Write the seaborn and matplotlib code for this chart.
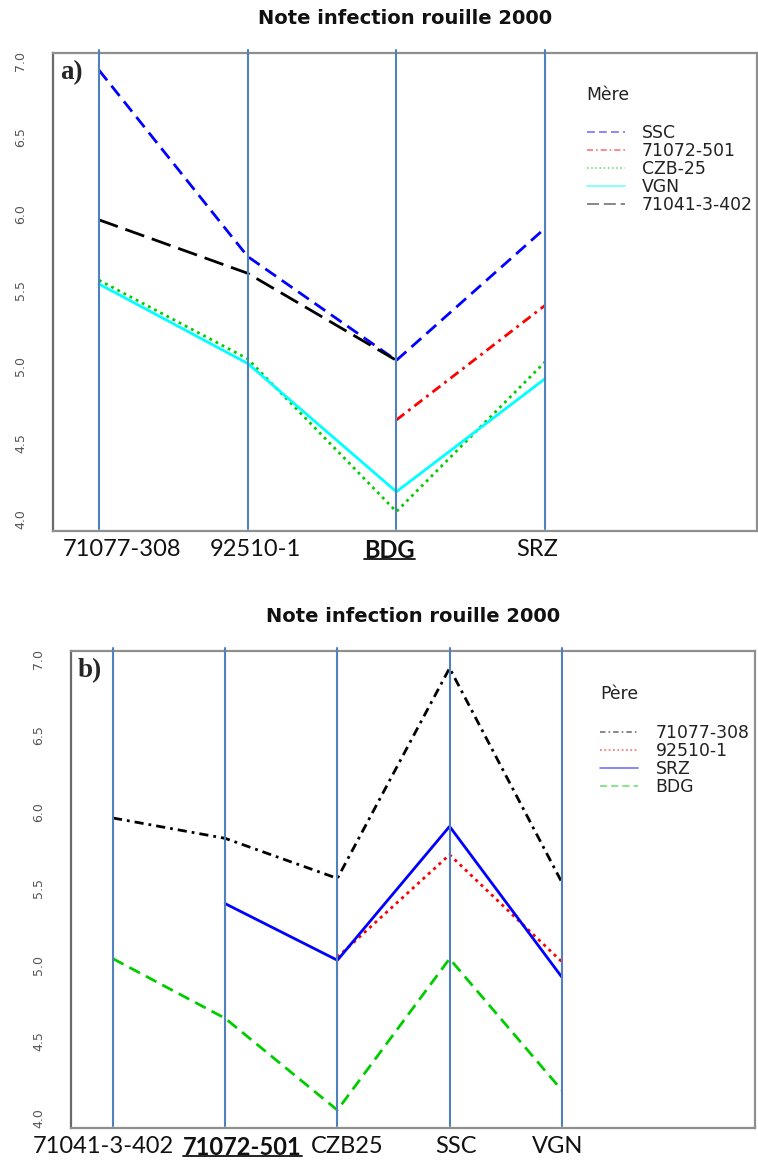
import numpy as np
import pandas as pd
import matplotlib
matplotlib.use("Agg")
import matplotlib.pyplot as plt
from matplotlib.lines import Line2D
import seaborn as sns

# ---- data: rust infection score (2000), crosses mother x father ----
peres = ["71077-308", "92510-1", "BDG", "SRZ"]
meres = ["SSC", "71072-501", "CZB-25", "VGN", "71041-3-402"]

# one list per mother, values in the order of `peres` (NaN = cross not made)
note_ssc = [6.94, 5.72, 5.04, 5.905]
note_71072_501 = [5.827, np.nan, 4.65, 5.40]
note_czb25 = [5.565, 5.05, 4.05, 5.03]
note_vgn = [5.54, 5.02, 4.18, 4.92]
note_71041_3_402 = [5.96, 5.61, 5.04, np.nan]

# panel b: mothers along x, fathers as traces
meres_b = ["71041-3-402", "71072-501", "CZB-25", "SSC", "VGN"]
mere_labels_b = ["71041-3-402", "71072-501", "CZB25", "SSC", "VGN"]
peres_legend_b = ["71077-308", "92510-1", "SRZ", "BDG"]

pere_labels_a = ["71077-308", "92510-1", "BDG", "SRZ"]
bold_a = ["BDG"]
bold_b = ["71072-501"]

yticks = [4.0, 4.5, 5.0, 5.5, 6.0, 6.5, 7.0]
ytick_labels = ["4.0", "4.5", "5.0", "5.5", "6.0", "6.5", "7.0"]

title = "Note infection rouille 2000"

# ---- layout: horizontal nudge (pixels) of each category caption ----
label_shift_a = [23, 8, -7, -8]
label_shift_b = [-10, 17, 10, 6, -4]

# ---- styles ----
pal_a = {"SSC": "#0000FF", "71072-501": "#FF0000", "CZB-25": "#00CD00",
         "VGN": "#00FFFF", "71041-3-402": "#000000"}
dash_a = {"SSC": (4.7, 2.5), "71072-501": (3.6, 1.8, 1.0, 1.8),
          "CZB-25": (1.0, 1.5), "VGN": "", "71041-3-402": (7.2, 2.9)}
pal_b = {"71077-308": "#000000", "92510-1": "#FF0000", "SRZ": "#0000FF",
         "BDG": "#00CD00"}
dash_b = {"71077-308": (3.3, 1.8, 1.0, 1.8), "92510-1": (1.1, 1.5),
          "SRZ": "", "BDG": (4.3, 2.4)}
guide_color = "#4F81BD"

sns.set_style("white")
plt.rcParams["font.family"] = ["DejaVu Sans"]
plt.rcParams["lines.scale_dashes"] = True

# ---- long table ----
scores = {"SSC": note_ssc, "71072-501": note_71072_501, "CZB-25": note_czb25,
          "VGN": note_vgn, "71041-3-402": note_71041_3_402}
rows = []
for m in meres:
    for p, v in zip(peres, scores[m]):
        rows.append({"mere": m, "pere": p, "note": v})
df = pd.DataFrame(rows)
df["xa"] = df["pere"].map({p: i for i, p in enumerate(peres)})
df["xb"] = df["mere"].map({m: i for i, m in enumerate(meres_b)})


def split_runs(d, trace, xcol):
    """Give each unbroken run of a trace its own unit, so gaps stay gaps."""
    d = d.sort_values([trace, xcol]).copy()
    run = d.groupby(trace)["note"].transform(lambda s: s.isna().cumsum())
    d["seg"] = d[trace] + "|" + run.astype(str)
    return d.dropna(subset=["note"])


da = split_runs(df, "mere", "xa")
db = split_runs(df, "pere", "xb")

W, H = 758, 1160
fig = plt.figure(figsize=(W / 100, H / 100), dpi=100)
ax_a = fig.add_axes([53 / W, 1 - 531 / H, 704 / W, 478 / H])
ax_b = fig.add_axes([71 / W, 1 - 1128.3 / H, 684 / W, 477.3 / H])


def style_axes(ax, n, xlim, ylim, labels, shifts, bold, tag):
    ax.set_xlim(*xlim)
    ax.set_ylim(*ylim)
    ax.set_xticks(range(n), labels=[""] * n)
    ax.set_yticks(yticks, labels=ytick_labels)
    ax.set_xlabel("")
    ax.set_ylabel("")
    ax.tick_params(axis="x", length=0)
    ax.tick_params(axis="y", length=8, pad=10.5, width=1.0, color="#707070",
                   labelsize=9, labelcolor="#555555", labelrotation=90)
    for t in ax.get_yticklabels():
        t.set_va("center")
    captions = []
    for i, (lab, dx) in enumerate(zip(labels, shifts)):
        captions.append(ax.annotate(
            lab, xy=(i, 0), xycoords=("data", "axes fraction"),
            xytext=(dx * 0.72, -5.5), textcoords="offset points",
            ha="center", va="top", fontsize=17, family="Lato",
            color="#111111",
            fontweight="bold" if lab in bold else "normal"))
    for s in ax.spines.values():
        s.set_color("#8f8f8f")
        s.set_linewidth(1.6)
    ax.spines["left"].set_color("#6a6a6a")
    for i in range(n):
        ax.axvline(i, ymin=0.004, ymax=1.006, color=guide_color, lw=1.5,
                   zorder=3, clip_on=False)
    ax.set_title(title, fontsize=14, fontweight="bold", color="#111111",
                 pad=21)
    ax.annotate(tag, xy=(0, 1), xycoords="axes fraction", xytext=(5, -5),
                textcoords="offset points", ha="left", va="top",
                fontsize=19.5, fontweight="bold", family="Liberation Serif")
    return [c for c in captions if c.get_text() in bold]


def add_legend(ax, order, pal, dashes, head, anchor):
    handles = [Line2D([], [], color=pal[k], lw=1.2, alpha=0.55,
                      dashes=dashes[k] if dashes[k] else (None, None))
               for k in order]
    leg = ax.legend(handles, order, title=head + "\n", loc="upper left",
                    bbox_to_anchor=anchor, frameon=False, borderpad=0,
                    borderaxespad=0, handlelength=2.2, handletextpad=1.0,
                    labelspacing=0.0, alignment="left",
                    prop={"size": 12.4, "family": "DejaVu Sans"},
                    title_fontproperties={"size": 12.4,
                                          "family": "DejaVu Sans"})
    for t in leg.get_texts():
        t.set_color("#222222")
    leg.get_title().set_color("#222222")


# ---- panel a: fathers on x, one trace per mother ----
sns.lineplot(data=da, x="xa", y="note", hue="mere", style="mere",
             units="seg", estimator=None, hue_order=meres, style_order=meres,
             palette=pal_a, dashes=dash_a, linewidth=2.0, legend=False,
             ax=ax_a)
under_a = style_axes(ax_a, len(peres), (-0.309, 4.425), (3.923, 7.052),
                     pere_labels_a, label_shift_a, bold_a, "a)")
add_legend(ax_a, meres, pal_a, dash_a, "Mère", (0.758, 0.932))

# ---- panel b: mothers on x, one trace per father ----
sns.lineplot(data=db, x="xb", y="note", hue="pere", style="pere",
             units="seg", estimator=None, hue_order=peres_legend_b,
             style_order=peres_legend_b, palette=pal_b, dashes=dash_b,
             linewidth=2.0, legend=False, ax=ax_b)
under_b = style_axes(ax_b, len(meres_b), (-0.374, 5.722), (3.931, 7.052),
                     mere_labels_b, label_shift_b, bold_b, "b)")
add_legend(ax_b, peres_legend_b, pal_b, dash_b, "Père", (0.774, 0.929))

# underline the emphasised category names
fig.canvas.draw()
renderer = fig.canvas.get_renderer()
for t in under_a + under_b:
    bb = t.get_window_extent(renderer)
    y = bb.y0 + 0.12 * bb.height
    fig.add_artist(Line2D([bb.x0 / W, bb.x1 / W], [y / H, y / H],
                          transform=fig.transFigure, color="#111111",
                          lw=1.3))

fig.savefig("out.png", dpi=100)
